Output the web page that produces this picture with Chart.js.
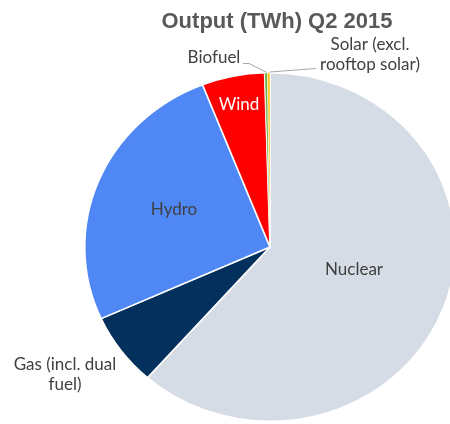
<!DOCTYPE html>
<html>
<head>
<meta charset="utf-8">
<script src="https://cdn.jsdelivr.net/npm/chart.js@4/dist/chart.umd.min.js"></script>
<style>
    html, body { margin: 0; padding: 0; background: #fff; }
    #wrap { width: 450px; height: 424px; }
</style>
</head>
<body>
<div id="wrap"><canvas id="chart"></canvas></div>
<script>
const sources = ['Nuclear', 'Gas (incl. dual fuel)', 'Hydro', 'Wind', 'Biofuel', 'Solar (excl. rooftop solar)'];
const outputTwh = [22.5, 2.47, 9.44, 2.0, 0.09, 0.08];
const sliceColors = ['#D6DCE5', '#03305C', '#4F88F5', '#FF0000', '#70AD47', '#FFC000'];

const titleText = 'Output (TWh) Q2 2015';

// Excel stretched the pie a little sideways
const stretchX = 1.063;

const stretchPlugin = {
    id: 'stretch',
    beforeDatasetsDraw(chart) {
        const arc = chart.getDatasetMeta(0).data[0];
        const ctx = chart.ctx;
        ctx.save();
        ctx.translate(arc.x, arc.y);
        ctx.scale(stretchX, 1);
        ctx.translate(-arc.x, -arc.y);
    },
    afterDatasetsDraw(chart) {
        chart.ctx.restore();
    },
};

const labelPlugin = {
    id: 'sliceLabels',
    afterDraw(chart) {
        const ctx = chart.ctx;
        ctx.save();

        ctx.fillStyle = '#595959';
        ctx.font = 'bold 22px "Liberation Sans Narrow", "Arial Narrow", sans-serif';
        ctx.textAlign = 'center';
        ctx.textBaseline = 'middle';
        ctx.fillText(titleText, 277, 22);

        ctx.font = '17px Lato, sans-serif';
        const labels = [
            { lines: ['Nuclear'], x: 354, y: 270, color: '#404040' },
            { lines: ['Gas (incl. dual', 'fuel)'], x: 65, y: 365, color: '#404040' },
            { lines: ['Hydro'], x: 174, y: 210, color: '#404040' },
            { lines: ['Wind'], x: 239, y: 105, color: '#FFFFFF' },
            { lines: ['Biofuel'], x: 214, y: 58, color: '#404040' },
            { lines: ['Solar (excl.', 'rooftop solar)'], x: 370, y: 45, color: '#404040' },
        ];
        labels.forEach((l) => {
            ctx.fillStyle = l.color;
            l.lines.forEach((line, i) => {
                ctx.fillText(line, l.x, l.y + i * 20);
            });
        });

        // leader lines
        ctx.strokeStyle = '#A6A6A6';
        ctx.lineWidth = 1;
        ctx.beginPath();
        ctx.moveTo(243, 63.5);
        ctx.lineTo(249, 63.5);
        ctx.lineTo(266, 72);
        ctx.moveTo(270, 72);
        ctx.lineTo(316, 68.5);
        ctx.stroke();

        ctx.restore();
    },
};

new Chart(document.getElementById('chart'), {
    type: 'pie',
    data: {
        labels: sources,
        datasets: [{
            data: outputTwh,
            backgroundColor: sliceColors,
            borderColor: '#FFFFFF',
            borderWidth: [1.5, 1.5, 1.5, 1.5, 0.6, 0.6],
        }],
    },
    options: {
        responsive: true,
        maintainAspectRatio: false,
        animation: false,
        layout: { padding: { left: 95, right: 5, top: 72, bottom: 2 } },
        plugins: {
            legend: { display: false },
            tooltip: { enabled: false },
        },
    },
    plugins: [stretchPlugin, labelPlugin],
});
</script>
</body>
</html>
